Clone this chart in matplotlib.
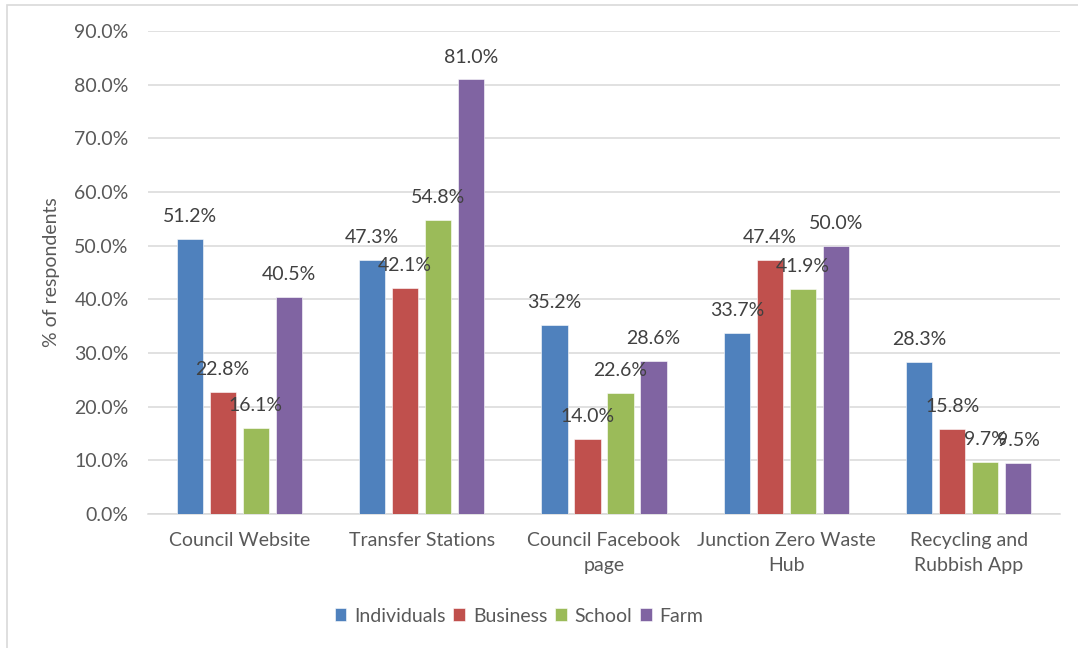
import matplotlib.pyplot as plt
from matplotlib.patches import Rectangle
import numpy as np

plt.rcParams['font.family'] = ['Lato', 'DejaVu Sans']

# canales de información y porcentaje de encuestados por tipo
categorias = ["Council Website", "Transfer Stations", "Council Facebook\npage",
              "Junction Zero Waste\nHub", "Recycling and\nRubbish App"]
grupos = ["Individuals", "Business", "School", "Farm"]
individuals = [51.2, 47.3, 35.2, 33.7, 28.3]
business = [22.8, 42.1, 14.0, 47.4, 15.8]
school = [16.1, 54.8, 22.6, 41.9, 9.7]
farm = [40.5, 81.0, 28.6, 50.0, 9.5]
colores = ["#4F81BD", "#C0504D", "#9BBB59", "#8064A2"]

series = [individuals, business, school, farm]
tam = 14

fig = plt.figure(figsize=(10.78, 6.48), dpi=100)
ax = fig.add_axes([0.1373, 0.2068, 0.846, 0.7454])

# marco del gráfico
fig.patches.append(Rectangle((7 / 1078, -0.1), 1.2, 1 - 5 / 648 + 0.1,
                             transform=fig.transFigure, fill=False,
                             edgecolor="#d9d9d9", linewidth=1.2))

x = np.arange(len(categorias))
ancho = 0.143
paso = 0.181

for k, (nombre, valores, color) in enumerate(zip(grupos, series, colores)):
    pos = x + (k - 1.5) * paso
    ax.bar(pos, np.array(valores) / 100, ancho, color=color,
           label=nombre, zorder=3, edgecolor="white", linewidth=0.4)
    for xi, v in zip(pos, valores):
        ax.annotate(f"{v:.1f}%", (xi, v / 100), xytext=(0, 16),
                    textcoords="offset points", ha="center", va="center",
                    fontsize=tam, color="#404040", zorder=4)

ax.set_xlim(-0.5, len(categorias) - 0.5)
ax.set_ylim(0, 0.9)
ax.set_yticks(np.arange(0, 0.91, 0.1))
ax.set_yticklabels([f"{t * 100:.1f}%" for t in np.arange(0, 0.91, 0.1)])
ax.set_xticks(x)
ax.set_xticklabels(categorias, linespacing=1.6)
ax.tick_params(axis="both", length=0, labelsize=tam, labelcolor="#595959")
ax.tick_params(axis="x", pad=13)
ax.tick_params(axis="y", pad=14)

ax.grid(axis="y", color="#d9d9d9", linewidth=1.1, zorder=0)
for lado in ["top", "right", "left"]:
    ax.spines[lado].set_visible(False)
ax.spines["bottom"].set_color("#d9d9d9")
ax.spines["bottom"].set_linewidth(1.1)

ax.set_ylabel("% of respondents", fontsize=tam, color="#595959", labelpad=10)

fig.legend(loc="center", bbox_to_anchor=(519 / 1078, 1 - 616 / 648), ncol=4,
           frameon=False, fontsize=tam, labelcolor="#595959",
           handlelength=0.6, handleheight=0.6, handletextpad=0.4,
           columnspacing=0.4)

fig.savefig("out.png", dpi=100)
